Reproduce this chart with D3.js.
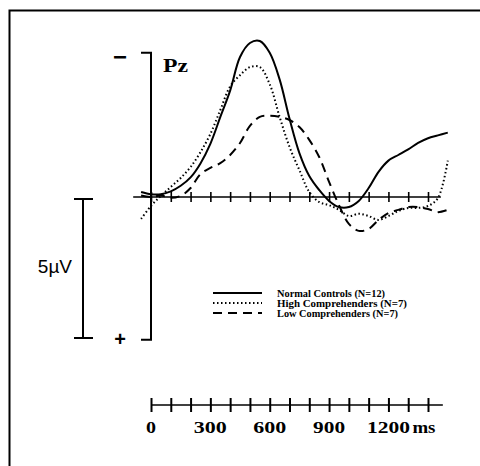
<!DOCTYPE html><meta charset="utf-8">
<title>ERP at Pz</title>
<style>
  body{margin:0;background:#fff}
  svg{display:block}
  text{fill:#000}
</style>
<script src="https://d3js.org/d3.v7.min.js"></script>
<body><script>
// time grid (ms) and amplitudes (µV, negative plotted up)
const times   = [-50,0,50,100,150,200,250,300,350,400,450,500,550,600,650,700,750,800,
                 850,900,950,1000,1050,1100,1150,1200,1250,1300,1350,1400,1450,1500];
const normal  = [-0.18,-0.1,-0.1,-0.2,-0.4,-0.7,-1.2,-1.9,-2.85,-3.8,-5.0,-5.5,-5.57,-5.15,-4.2,-2.8,
                 -1.57,-0.75,-0.25,0.14,0.36,0.36,0.14,-0.32,-0.9,-1.3,-1.5,-1.7,-1.93,-2.1,-2.2,-2.3];
const highC   = [0.78,0.32,-0.04,-0.36,-0.68,-1.07,-1.6,-2.25,-3.1,-3.95,-4.35,-4.64,-4.64,-4.03,-2.86,-1.79,
                 -0.96,-0.18,0.18,0.29,0.46,0.68,0.6,0.68,0.82,0.68,0.5,0.39,0.39,0.32,0.04,-1.3];
const lowC    = [-0.05,0,-0.05,0.03,-0.04,-0.32,-0.82,-1.04,-1.21,-1.5,-1.93,-2.54,-2.86,-2.9,-2.86,-2.75,
                 -2.5,-2.04,-1.43,-0.54,0.29,0.96,1.21,1.14,0.82,0.57,0.46,0.36,0.36,0.43,0.54,0.46];
const seriesNames = ["Normal Controls (N=12)","High Comprehenders (N=7)","Low Comprehenders (N=7)"];
const dashes  = [null,"1.5,2.5","9,6"];
const ticks   = d3.range(0,1500,100);
const tickLabels = [0,300,600,900,1200];

const W = 480, H = 466;
const svg = d3.select("body").append("svg").attr("width",W).attr("height",H);
svg.append("rect").attr("width",W).attr("height",H).attr("fill","#fff");

// frame (left + top only)
svg.append("path").attr("d","M9.5,466V10.5H480").attr("fill","none")
  .attr("stroke","#000").attr("stroke-width",2);

const x = d3.scaleLinear().domain([0,1400]).range([151,428]);
const y = d3.scaleLinear().domain([-5,5]).range([57,337]);

// amplitude axis
const ax = svg.append("g").attr("stroke","#000").attr("stroke-width",2).attr("fill","none");
ax.append("path").attr("d",`M${x(0)-10},${y(-5.15)}H${x(0)}V${y(5.1)}H${x(0)-10}`);

svg.append("text").attr("x",120).attr("y",y(-5)+8).attr("text-anchor","middle")
  .attr("font-family","Liberation Sans").attr("font-weight","bold").attr("font-size",24).text("−");
svg.append("text").attr("x",120).attr("y",y(5)+9).attr("text-anchor","middle")
  .attr("font-family","Liberation Sans").attr("font-weight","bold").attr("font-size",20).text("+");
svg.append("text").attr("x",163).attr("y",72)
  .attr("font-family","Liberation Serif").attr("font-weight","bold").attr("font-size",18)
  .attr("textLength",25).attr("lengthAdjust","spacingAndGlyphs").text("Pz");

// baseline with crossing ticks
const base = svg.append("g").attr("transform",`translate(0,${y(0)})`);
base.append("line").attr("x1",x(-90)).attr("x2",x(1465)).attr("stroke","#000").attr("stroke-width",1.6);
base.call(d3.axisBottom(x).tickValues(ticks).tickSize(5).tickFormat(""))
  .call(g=>g.select(".domain").remove())
  .call(g=>g.selectAll(".tick line").attr("y1",-5).attr("y2",5).attr("stroke-width",1.6));

// ERP curves
const line = d3.line().x((d,i)=>x(times[i])).y(d=>y(d)).curve(d3.curveCatmullRom);
[normal,highC,lowC].forEach((s,i)=>{
  svg.append("path").attr("d",line(s)).attr("fill","none").attr("stroke","#000")
    .attr("stroke-width",2).attr("stroke-dasharray",dashes[i]);
});

// 5 µV scale bar
const sb = svg.append("g").attr("stroke","#000").attr("stroke-width",2);
sb.append("line").attr("x1",83).attr("x2",83).attr("y1",y(0)+2).attr("y2",y(5)+1);
sb.append("line").attr("x1",74).attr("x2",93).attr("y1",y(0)+2).attr("y2",y(0)+2);
sb.append("line").attr("x1",74).attr("x2",93).attr("y1",y(5)+1).attr("y2",y(5)+1);
svg.append("text").attr("x",72).attr("y",273).attr("text-anchor","end")
  .attr("font-family","Liberation Sans").attr("font-size",19).text("5µV");

// legend
const legW = [108,130,121];
const lg = svg.append("g").attr("transform","translate(213,293)");
seriesNames.forEach((n,i)=>{
  lg.append("line").attr("x1",0).attr("x2",49).attr("y1",i*10).attr("y2",i*10)
    .attr("stroke","#000").attr("stroke-width",2).attr("stroke-dasharray",dashes[i]);
  lg.append("text").attr("x",64).attr("y",i*10+3.5).attr("text-anchor","start")
    .attr("font-family","Liberation Serif").attr("font-weight","bold").attr("font-size",10)
    .attr("textLength",legW[i]).attr("lengthAdjust","spacingAndGlyphs")
    .text(n);
});

// time scale
const ty = 405;
const labW = {0:10,300:33,600:33,900:32,1200:43};
const tg = svg.append("g").attr("transform",`translate(0,${ty})`);
tg.append("line").attr("x1",x(0)).attr("x2",x(1475)).attr("stroke","#000").attr("stroke-width",1.5);
tg.call(d3.axisBottom(x).tickValues(ticks).tickSize(5).tickFormat(""))
  .call(g=>g.select(".domain").remove())
  .call(g=>g.selectAll(".tick line").attr("y1",-7).attr("y2",7).attr("stroke-width",2));
const tl = svg.append("g").attr("transform",`translate(0,${ty})`);
tl.selectAll("text").data(tickLabels).join("text")
  .attr("x",d=>x(d)-labW[d]/2).attr("y",28).attr("text-anchor","start")
  .attr("font-family","Liberation Serif").attr("font-weight","bold").attr("font-size",16)
  .attr("textLength",d=>labW[d]).attr("lengthAdjust","spacingAndGlyphs").text(d=>d);
tl.append("text").attr("x",x(1200)+24).attr("y",28).attr("text-anchor","start")
  .attr("font-family","Liberation Serif").attr("font-weight","bold").attr("font-size",16)
  .attr("textLength",23).attr("lengthAdjust","spacingAndGlyphs").text("ms");
</script>
